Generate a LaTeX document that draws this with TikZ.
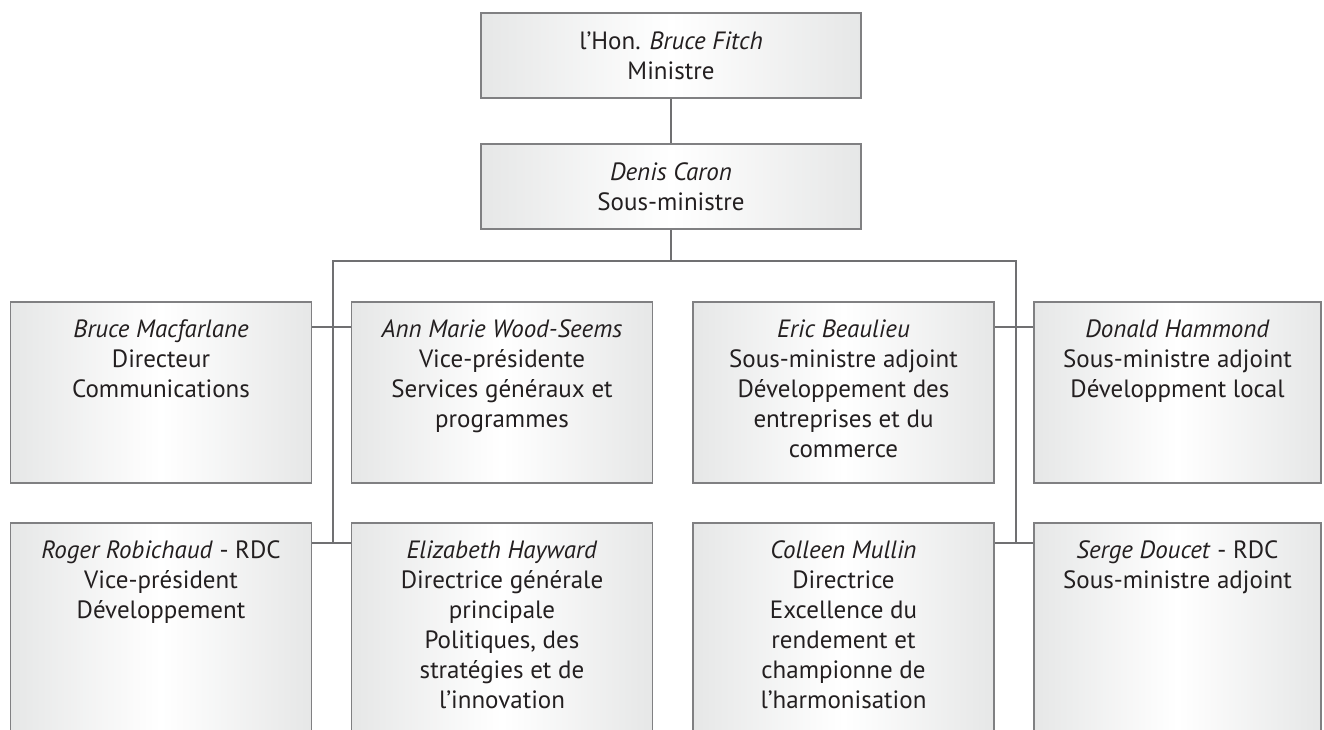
\documentclass[tikz,border=0pt]{standalone}
\usepackage{fontspec}
\setmainfont{PT Sans}
\definecolor{framegray}{RGB}{128,128,130}
\definecolor{linkgray}{RGB}{112,112,114}
\definecolor{inkblack}{RGB}{35,31,32}
\definecolor{shadegray}{RGB}{230,231,231}
\tikzset{
  card/.style={draw=framegray, line width=1.6pt, left color=shadegray, right color=shadegray, middle color=white, inner sep=0pt, minimum width=301pt},
  cardtext/.style={text=inkblack, align=center, inner sep=0pt, font=\fontsize{25}{30}\selectfont},
  link/.style={draw=linkgray, line width=1.6pt},
}

\begin{document}
\begin{tikzpicture}[x=1pt,y=-1pt,line join=miter]
    \clip (0,0) rectangle (1324,730);
    % direction
    \node[card, cardtext, minimum width=380pt, minimum height=85pt] (min) at (671,55.5) {l’Hon. \textit{Bruce Fitch}\\Ministre};
    \node[card, cardtext, minimum width=380pt, minimum height=85pt] (sm) at (671,186.5) {\textit{Denis Caron}\\Sous-ministre};
    % first row
    \node[card, minimum height=181pt] (bm) at (161,392.5) {};
    \node[card, minimum height=181pt] (amw) at (502,392.5) {};
    \node[card, minimum height=181pt] (eb) at (843.5,392.5) {};
    \node[card, minimum height=181pt, minimum width=287pt] (dh) at (1177.5,392.5) {};
    % second row (runs off the page)
    \node[card, minimum height=260pt] (rr) at (161,653) {};
    \node[card, minimum height=260pt] (eh) at (502,653) {};
    \node[card, minimum height=260pt] (cm) at (843.5,653) {};
    \node[card, minimum height=260pt, minimum width=287pt] (sd) at (1177.5,653) {};
    % texts
    \node[cardtext, anchor=north] (bm-t) at ([yshift=-18pt]bm.north) {\textit{Bruce Macfarlane}\\Directeur\\Communications};
    \node[cardtext, anchor=north] (amw-t) at ([yshift=-18pt]amw.north) {\textit{Ann Marie Wood-Seems}\\Vice-présidente\\Services généraux et\\programmes};
    \node[cardtext, anchor=north] (eb-t) at ([yshift=-18pt]eb.north) {\textit{Eric Beaulieu}\\Sous-ministre adjoint\\Développement des\\entreprises et du\\commerce};
    \node[cardtext, anchor=north] (dh-t) at ([yshift=-18pt]dh.north) {\textit{Donald Hammond}\\Sous-ministre adjoint\\Développment local};
    \node[cardtext, anchor=north] (rr-t) at ([yshift=-18pt]rr.north) {\textit{Roger Robichaud} - RDC\\Vice-président\\Développement};
    \node[cardtext, anchor=north] (eh-t) at ([yshift=-18pt]eh.north) {\textit{Elizabeth Hayward}\\Directrice générale\\principale\\Politiques, des\\stratégies et de\\l’innovation};
    \node[cardtext, anchor=north] (cm-t) at ([yshift=-18pt]cm.north) {\textit{Colleen Mullin}\\Directrice\\Excellence du\\rendement et\\championne de\\l’harmonisation};
    \node[cardtext, anchor=north] (sd-t) at ([yshift=-18pt]sd.north) {\textit{Serge Doucet} - RDC\\Sous-ministre adjoint};
    % connectors
    \coordinate (busL) at (333,261);
    \coordinate (busR) at (1016,261);
    \coordinate (rowoneL) at (333,327);
    \coordinate (rowoneR) at (1016,327);
    \coordinate (rowtwoL) at (333,543);
    \coordinate (rowtwoR) at (1016,543);
    \draw[link] (min.south) -- (sm.north);
    \draw[link] (sm.south) -- (sm.south |- busL);
    \draw[link] (rowtwoL) -- (busL) -- (busR) -- (rowtwoR);
    \draw[link] (bm.east |- rowoneL) -- (amw.west |- rowoneL);
    \draw[link] (eb.east |- rowoneR) -- (dh.west |- rowoneR);
    \draw[link] (rr.east |- rowtwoL) -- (eh.west |- rowtwoL);
    \draw[link] (cm.east |- rowtwoR) -- (sd.west |- rowtwoR);
\end{tikzpicture}
\end{document}
